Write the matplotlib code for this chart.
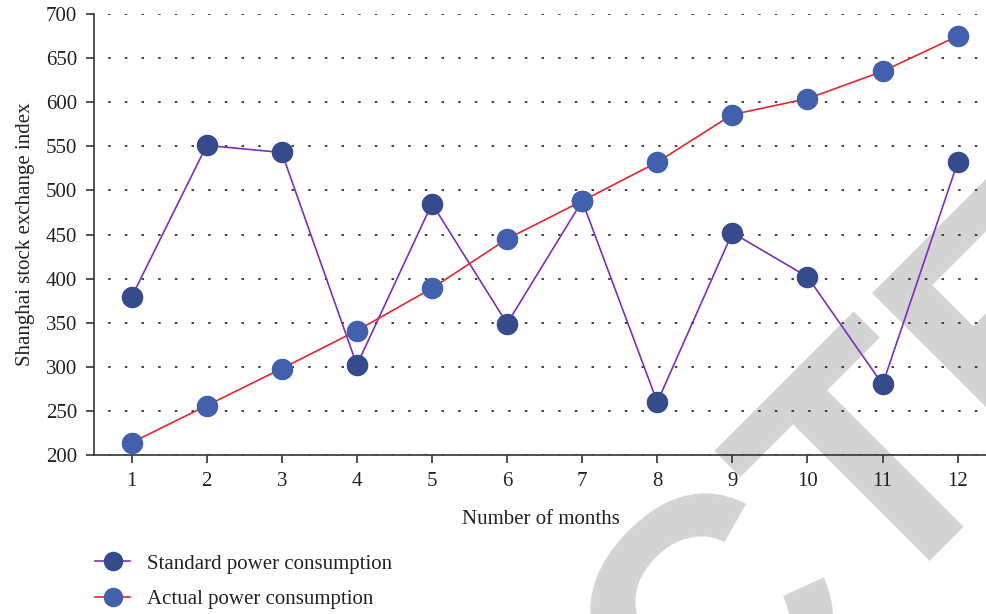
import matplotlib
matplotlib.use('Agg')
import matplotlib.pyplot as plt

# Values
months = [1, 2, 3, 4, 5, 6, 7, 8, 9, 10, 11, 12]
standard = [379, 551, 543, 302, 485, 349, 488, 260, 452, 402, 280, 532]
actual = [214, 256, 298, 341, 389, 445, 488, 532, 586, 604, 635, 675]
y_ticks = [200, 250, 300, 350, 400, 450, 500, 550, 600, 650, 700]

plt.rcParams['font.family'] = ['Liberation Serif', 'DejaVu Serif']

fig = plt.figure(figsize=(9.87, 6.14), dpi=100)
ax = fig.add_axes([94 / 987, (614 - 455) / 614, (987 - 94) / 987, 441 / 614])
ax.set_facecolor('none')

# watermark behind the plot
fig.text(700 / 987, -163 / 614, 'CTED', family='Liberation Sans', fontweight='bold',
         fontsize=241, color='#d3d3d3', rotation=45, rotation_mode='anchor',
         ha='left', va='baseline', zorder=-1)

ax.plot(months, standard, color='#7b2fbe', lw=1.2, marker='o', markersize=14.5,
        markerfacecolor='#364b8b', markeredgecolor='#364b8b',
        label='Standard power consumption', zorder=3)
ax.plot(months, actual, color='#e3262f', lw=1.2, marker='o', markersize=14.5,
        markerfacecolor='#4360ad', markeredgecolor='#4360ad',
        label='Actual power consumption', zorder=3)

ax.set_xlim(0.5, 12.39)
ax.set_ylim(200, 700)
ax.set_xticks(months)
ax.set_yticks(y_ticks)
ax.yaxis.grid(True, linestyle=(1.5, (1.5, 8.5)), color='#222222', lw=1.2)
ax.set_axisbelow(True)

for s in ['top', 'right']:
    ax.spines[s].set_visible(False)
for s in ['left', 'bottom']:
    ax.spines[s].set_color('#333333')
    ax.spines[s].set_linewidth(1.2)
ax.tick_params(direction='out', length=6, width=1.2, color='#333333',
               labelsize=15, labelcolor='#222222', pad=6)

ax.set_xlabel('Number of months', fontsize=15, color='#222222', labelpad=14)
ax.set_ylabel('Shanghai stock exchange index', fontsize=15, color='#222222', labelpad=8)

fig.legend(loc='upper left', bbox_to_anchor=(95 / 987, 1 - 554 / 614),
           frameon=False, fontsize=15, handlelength=1.7, handletextpad=0.8,
           borderpad=0, borderaxespad=0, labelspacing=0.75, markerscale=0.9,
           labelcolor='#222222')

fig.savefig('out.png', dpi=100)
